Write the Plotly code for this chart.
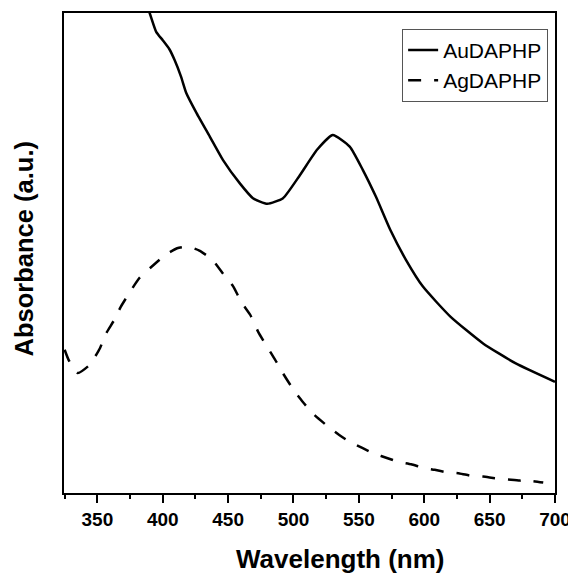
import plotly.graph_objects as go

# AuDAPHP spectrum (wavelength nm, absorbance a.u.)
au_wavelength = [385, 390, 395, 400, 405, 409, 414, 418, 426, 436, 446, 459, 469, 480,
                 492, 505, 518, 530, 543, 553, 563, 574, 586, 599, 620, 645, 670, 700]
au_absorbance = [1.240, 1.200, 1.153, 1.132, 1.110, 1.083, 1.041, 1.000, 0.949, 0.891,
                 0.833, 0.774, 0.737, 0.723, 0.737, 0.795, 0.858, 0.895, 0.866, 0.808,
                 0.741, 0.658, 0.583, 0.516, 0.441, 0.374, 0.324, 0.278]

# AgDAPHP spectrum
ag_wavelength = [325, 328, 335, 344, 352, 356, 363, 368, 376, 382, 393, 402, 411, 419,
                 428, 438, 446, 454, 460, 467, 473, 479, 486, 492, 500, 507, 516, 525,
                 535, 543, 553, 562, 572, 580, 590, 599, 608, 617, 627, 636, 645, 654,
                 664, 673, 682, 691]
ag_absorbance = [0.358, 0.333, 0.300, 0.320, 0.362, 0.395, 0.433, 0.466, 0.508, 0.537,
                 0.570, 0.595, 0.612, 0.616, 0.606, 0.583, 0.549, 0.516, 0.478, 0.445,
                 0.403, 0.370, 0.333, 0.299, 0.258, 0.228, 0.195, 0.170, 0.145, 0.128,
                 0.112, 0.098, 0.087, 0.078, 0.072, 0.063, 0.058, 0.052, 0.049, 0.043,
                 0.041, 0.037, 0.034, 0.031, 0.030, 0.026]

x_tickvals = [350, 400, 450, 500, 550, 600, 650, 700]
x_title = "Wavelength (nm)"
y_title = "Absorbance (a.u.)"

FONT = "Liberation Sans, Arial, sans-serif"

fig = go.Figure()
fig.add_trace(go.Scatter(x=au_wavelength, y=au_absorbance, mode="lines", name="AuDAPHP",
                         line=dict(color="black", width=2.5, shape="spline", smoothing=0.5)))
fig.add_trace(go.Scatter(x=ag_wavelength, y=ag_absorbance, mode="lines", name="AgDAPHP",
                         line=dict(color="black", width=2.5, dash="13px,13px",
                                   shape="spline", smoothing=0.5)))

# the page body adds an 8px offset, so the figure is sized/margined to compensate
fig.update_layout(
    width=568, height=565,
    margin=dict(l=56, r=21, t=5, b=80),
    plot_bgcolor="white", paper_bgcolor="white",
    font=dict(family=FONT, color="black"),
    legend=dict(x=0.986, y=0.967, xanchor="right", yanchor="top",
                bordercolor="#555", borderwidth=1, bgcolor="white",
                font=dict(size=21, family=FONT)),
    xaxis=dict(range=[324.5, 700], tickvals=x_tickvals, automargin=False,
               ticklabeloverflow="allow",
               ticks="outside", ticklen=8, tickwidth=1.5, tickcolor="black",
               minor=dict(dtick=25, tick0=325, ticks="outside", ticklen=4, tickwidth=1.5, tickcolor="black"),
               showline=True, linecolor="black", linewidth=1.5, mirror=True,
               showgrid=False, zeroline=False,
               tickfont=dict(size=19, family=FONT, weight="bold")),
    yaxis=dict(range=[0, 1.2], showticklabels=False, ticks="", automargin=False,
               showline=True, linecolor="black", linewidth=1.5, mirror=True,
               showgrid=False, zeroline=False),
    annotations=[
        dict(text=x_title, xref="paper", yref="paper", x=0.562, y=-0.1385,
             xanchor="center", yanchor="middle", showarrow=False,
             font=dict(size=26, family=FONT, weight="bold")),
        dict(text=y_title, xref="paper", yref="paper", x=-0.081, y=0.508,
             xanchor="center", yanchor="middle", showarrow=False, textangle=-90,
             font=dict(size=25.5, family=FONT, weight="bold")),
    ],
)

fig.write_html("out.html")
